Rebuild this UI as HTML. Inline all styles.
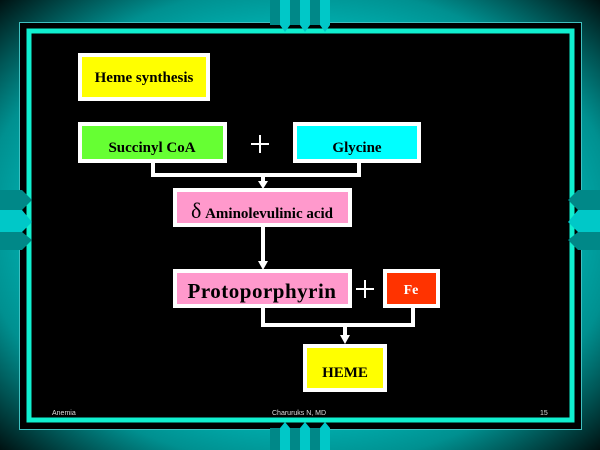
<!DOCTYPE html>
<html><head><style>
html,body{margin:0;padding:0;width:600px;height:450px;overflow:hidden;background:#000}
</style></head><body>
<svg width="600" height="450" xmlns="http://www.w3.org/2000/svg" font-family="Liberation Serif, serif">
<defs>
<radialGradient id="bg" cx="50%" cy="50%" r="71%">
<stop offset="0.5" stop-color="#00c8c8"/><stop offset="0.75" stop-color="#009090"/><stop offset="1" stop-color="#001010"/>
</radialGradient>
</defs>
<rect width="600" height="450" fill="url(#bg)"/>
<rect x="19.5" y="22.5" width="562" height="407" fill="#000" stroke="#40c0c0" stroke-width="1"/>
<rect x="29" y="31" width="543" height="389" fill="#000" stroke="#10f0d0" stroke-width="5"/>
<g fill="#008888"><rect x="270" y="0" width="10" height="25"/><rect x="290" y="0" width="10" height="25"/><rect x="310" y="0" width="10" height="25"/></g>
<g fill="#00c8c8"><polygon points="280,0 290,0 290,25 285,32 280,25"/><polygon points="300,0 310,0 310,25 305,32 300,25"/><polygon points="320,0 330,0 330,25 325,32 320,25"/></g>
<g fill="#008888"><rect x="270" y="428" width="10" height="22"/><rect x="290" y="428" width="10" height="22"/><rect x="310" y="428" width="10" height="22"/></g>
<g fill="#00c8c8"><polygon points="280,450 290,450 290,428 285,422 280,428"/><polygon points="300,450 310,450 310,428 305,422 300,428"/><polygon points="320,450 330,450 330,428 325,422 320,428"/></g>
<g><polygon points="0,190 22,190 32,200 22,210 0,210" fill="#008888"/><polygon points="0,210 22,210 32,222 22,232 0,232" fill="#00c8c8"/><polygon points="0,232 22,232 32,240 22,250 0,250" fill="#008888"/></g>
<g><polygon points="600,190 578,190 568,200 578,210 600,210" fill="#008888"/><polygon points="600,210 578,210 568,222 578,232 600,232" fill="#00c8c8"/><polygon points="600,232 578,232 568,240 578,250 600,250" fill="#008888"/></g>
<g stroke="#fff" stroke-width="4">
<rect x="80" y="55" width="128" height="44" fill="#ffff00"/>
<rect x="80" y="124" width="145" height="37" fill="#66ff33"/>
<rect x="295" y="124" width="124" height="37" fill="#00ffff"/>
<rect x="175" y="190" width="175" height="35" fill="#ff99cc"/>
<rect x="175" y="271" width="175" height="35" fill="#ff99cc"/>
<rect x="385" y="271" width="53" height="35" fill="#ff3300"/>
<rect x="305" y="346" width="80" height="44" fill="#ffff00"/>
</g>
<g stroke="#fff" stroke-width="4" fill="none">
<polyline points="153,161 153,175 359,175 359,161"/>
<line x1="263" y1="175" x2="263" y2="182"/>
<line x1="263" y1="225" x2="263" y2="262"/>
<polyline points="263,306 263,325 413,325 413,306"/>
<line x1="345" y1="325" x2="345" y2="336"/>
</g>
<g fill="#fff">
<polygon points="258,181 268,181 263,189"/>
<polygon points="258,261 268,261 263,270"/>
<polygon points="340,335 350,335 345,344"/>
</g>
<g stroke="#fff" stroke-width="2">
<line x1="251" y1="144" x2="269" y2="144"/><line x1="260" y1="135" x2="260" y2="153"/>
<line x1="356" y1="289" x2="374" y2="289"/><line x1="365" y1="280" x2="365" y2="298"/>
</g>
<g font-weight="bold" fill="#000" text-anchor="middle">
<text x="144" y="82" font-size="15">Heme synthesis</text>
<text x="152" y="152" font-size="15">Succinyl CoA</text>
<text x="357" y="152" font-size="15">Glycine</text>
<text x="262" y="218" font-size="15"><tspan font-size="22" font-weight="normal">δ</tspan> Aminolevulinic acid</text>
<text x="262" y="298" font-size="21" letter-spacing="0.5">Protoporphyrin</text>
<text x="411" y="294" font-size="14" fill="#fff">Fe</text>
<text x="345" y="377" font-size="15">HEME</text>
</g>
<g fill="#ddd" font-family="Liberation Sans, sans-serif" font-size="7">
<text x="52" y="415">Anemia</text>
<text x="272" y="415">Charuruks N, MD</text>
<text x="540" y="415">15</text>
</g>
</svg>
</body></html>
